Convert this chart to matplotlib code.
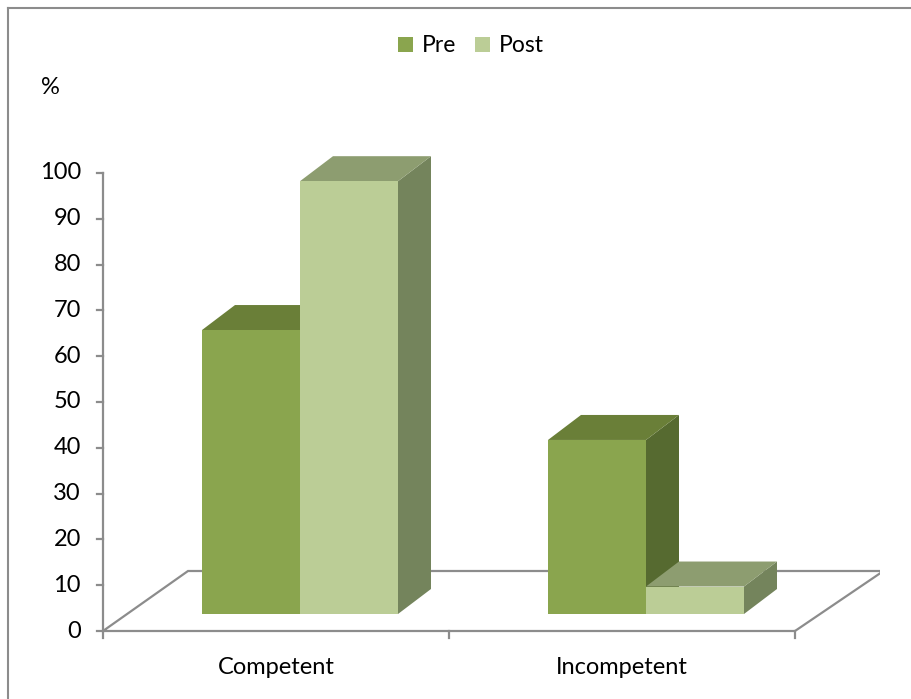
import matplotlib
matplotlib.use("Agg")
import matplotlib.pyplot as plt
from matplotlib.patches import Polygon, Rectangle
from matplotlib.lines import Line2D

categories = ["Competent", "Incompetent"]
series = ["Pre", "Post"]
pre_values = [62, 38]
post_values = [94.5, 6]
y_ticks = [0, 10, 20, 30, 40, 50, 60, 70, 80, 90, 100]

front_colors = ["#8AA54E", "#BBCD96"]
top_colors = ["#6A7F38", "#8D9D70"]
side_colors = ["#566A30", "#74845C"]

W, H = 911, 699
fig = plt.figure(figsize=(W / 100, H / 100), dpi=100)
plt.rcParams['font.family'] = ['Lato', 'DejaVu Sans']
FS = 17

# axes placement in pixels
left_px, right_px, top_px, bot_px = 103, 880, 140, 645
ax = fig.add_axes([left_px / W, 1 - bot_px / H, (right_px - left_px) / W, (bot_px - top_px) / H])
ppu_y = (631 - 173) / 100.0
ppu_x = 346.0
ax.set_ylim(-(bot_px - 631) / ppu_y, (631 - top_px) / ppu_y)
ax.set_xlim(0, (right_px - left_px) / ppu_x)
ax.axis("off")

# depth geometry (data units)
full_dx, full_dy = 85 / ppu_x, 60 / ppu_y
front_dx, front_dy = 24 / ppu_x, 17 / ppu_y
bar_dx, bar_dy = 33 / ppu_x, 25 / ppu_y
bar_w = 98 / ppu_x

axis_col = "#8C8C8C"
# floor outline
ax.plot([0, full_dx, 2 + full_dx + 0.01, 2, 0],
        [0, full_dy, full_dy, 0, 0], color=axis_col, lw=1.6, zorder=1,
        solid_joinstyle="miter")
# y axis + ticks
ax.plot([0, 0], [0, 100], color=axis_col, lw=1.6, zorder=1, clip_on=False)
for t in y_ticks:
    ax.plot([-6 / ppu_x, 0], [t, t], color=axis_col, lw=1.6, clip_on=False, zorder=1)
    ax.text(-22 / ppu_x, t, str(t), ha="right", va="center", fontsize=FS, color="#000000")
# x axis ticks
for i in range(len(categories) + 1):
    ax.plot([i, i], [0, -7 / ppu_y], color=axis_col, lw=1.6, clip_on=False, zorder=1)
for i, c in enumerate(categories):
    ax.text(i + 0.5, -36 / ppu_y, c, ha="center", va="center", fontsize=FS, color="#000000")

# bars
all_vals = [pre_values, post_values]
for i in range(len(categories)):
    gx = i + 0.5 + front_dx - bar_w
    for s in range(len(series)):
        v = all_vals[s][i]
        x0 = gx + s * bar_w
        x1 = x0 + bar_w
        y0 = front_dy
        y1 = front_dy + v
        z = 3 + i * 2 + s
        side = Polygon([[x1, y0], [x1 + bar_dx, y0 + bar_dy], [x1 + bar_dx, y1 + bar_dy], [x1, y1]],
                       closed=True, facecolor=side_colors[s], edgecolor="none", zorder=z)
        top = Polygon([[x0, y1], [x0 + bar_dx, y1 + bar_dy], [x1 + bar_dx, y1 + bar_dy], [x1, y1]],
                      closed=True, facecolor=top_colors[s], edgecolor="none", zorder=z)
        front = Rectangle((x0, y0), bar_w, v, facecolor=front_colors[s], edgecolor="none", zorder=z)
        for p in (side, top, front):
            ax.add_patch(p)

# % label
fig.text(50 / W, 1 - 87 / H, "%", ha="center", va="center", fontsize=FS)

# legend
handles = [Rectangle((0, 0), 1, 1, facecolor=front_colors[s], edgecolor="none") for s in range(2)]
fig.legend(handles, series, loc="center", bbox_to_anchor=(471 / W, 1 - 46 / H), ncol=2,
           frameon=False, fontsize=16.5, handlelength=0.65, handleheight=0.65,
           handletextpad=0.4, columnspacing=0.8)

# outer border
fig.add_artist(Line2D([8 / W, 8 / W], [0, 1 - 8 / H], color="#8C8C8C", lw=1.5))
fig.add_artist(Line2D([8 / W, 1], [1 - 8 / H, 1 - 8 / H], color="#8C8C8C", lw=1.5))

fig.savefig("out.png", dpi=100)
